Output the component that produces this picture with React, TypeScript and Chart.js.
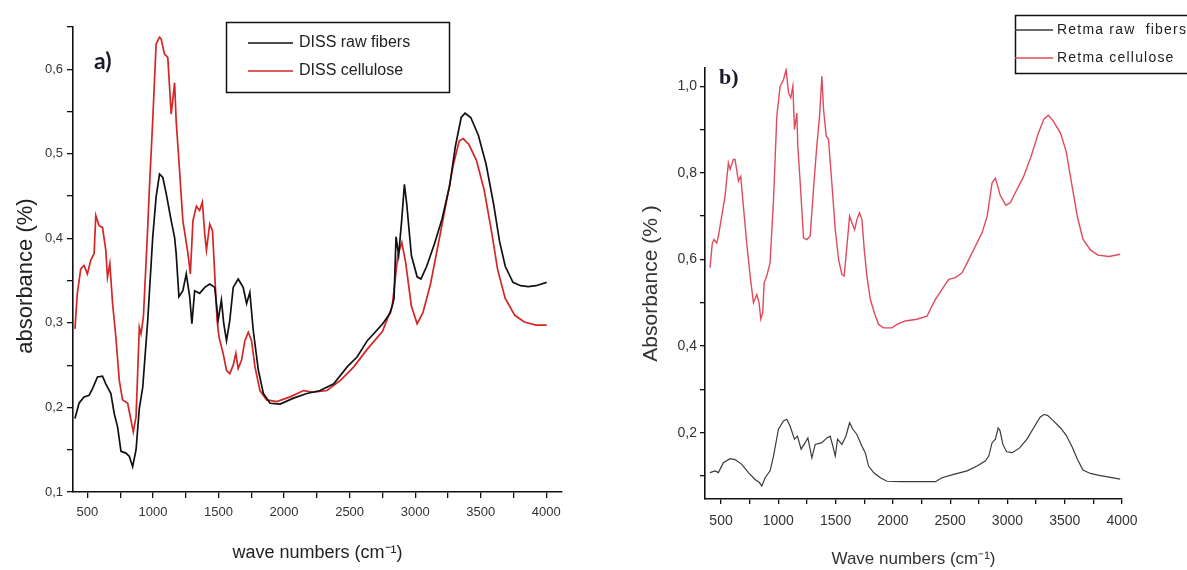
import { useEffect, useRef } from "react";
import { Chart, registerables } from "chart.js";

Chart.register(...registerables);

// ---------- Panel a) DISS ----------
const dissRawX = [405, 436, 474, 513, 538, 577, 615, 640, 679, 704, 730, 756, 794, 820, 845, 871, 896, 922, 960, 998, 1024, 1050, 1075, 1101, 1139, 1165, 1177, 1198, 1228, 1254, 1280, 1297, 1318, 1356, 1395, 1433, 1471, 1497, 1522, 1540, 1561, 1586, 1612, 1650, 1688, 1714, 1739, 1765, 1804, 1842, 1893, 1970, 2072, 2174, 2276, 2379, 2481, 2558, 2635, 2751, 2810, 2839, 2854, 2874, 2898, 2918, 2936, 2971, 3015, 3044, 3088, 3146, 3205, 3263, 3307, 3351, 3380, 3424, 3482, 3541, 3599, 3643, 3687, 3746, 3804, 3863, 3921, 4003];
const dissRawY = [0.187, 0.205, 0.2125, 0.2145, 0.222, 0.236, 0.237, 0.228, 0.2165, 0.193, 0.177, 0.148, 0.146, 0.142, 0.13, 0.15, 0.199, 0.224, 0.303, 0.401, 0.449, 0.476, 0.472, 0.453, 0.421, 0.401, 0.382, 0.331, 0.338, 0.358, 0.331, 0.299, 0.338, 0.335, 0.342, 0.346, 0.342, 0.303, 0.327, 0.299, 0.279, 0.303, 0.342, 0.352, 0.342, 0.323, 0.336, 0.291, 0.244, 0.2165, 0.205, 0.204, 0.211, 0.2165, 0.22, 0.228, 0.248, 0.26, 0.279, 0.2987, 0.3116, 0.329, 0.402, 0.38, 0.423, 0.464, 0.44, 0.38, 0.3545, 0.352, 0.367, 0.393, 0.423, 0.462, 0.509, 0.543, 0.548, 0.543, 0.522, 0.4876, 0.44, 0.397, 0.367, 0.348, 0.344, 0.343, 0.344, 0.348];

const dissCelX = [405, 423, 449, 474, 500, 525, 551, 564, 589, 615, 640, 653, 671, 692, 717, 743, 768, 807, 832, 850, 871, 896, 909, 927, 960, 973, 998, 1024, 1050, 1062, 1088, 1113, 1139, 1165, 1177, 1203, 1228, 1267, 1285, 1305, 1331, 1356, 1377, 1395, 1408, 1433, 1454, 1471, 1489, 1504, 1535, 1561, 1586, 1612, 1632, 1650, 1676, 1701, 1727, 1752, 1778, 1816, 1867, 1944, 2046, 2149, 2225, 2328, 2430, 2532, 2635, 2751, 2825, 2868, 2898, 2927, 2971, 3015, 3059, 3117, 3176, 3234, 3292, 3336, 3366, 3410, 3468, 3526, 3585, 3629, 3687, 3760, 3833, 3921, 4003];
const dissCelY = [0.293, 0.335, 0.364, 0.368, 0.358, 0.374, 0.382, 0.427, 0.415, 0.413, 0.386, 0.354, 0.37, 0.323, 0.283, 0.232, 0.209, 0.205, 0.185, 0.171, 0.189, 0.295, 0.287, 0.307, 0.413, 0.46, 0.539, 0.63, 0.638, 0.636, 0.618, 0.614, 0.547, 0.584, 0.539, 0.48, 0.421, 0.382, 0.358, 0.421, 0.438, 0.433, 0.443, 0.405, 0.386, 0.417, 0.409, 0.358, 0.303, 0.283, 0.264, 0.244, 0.24, 0.25, 0.264, 0.246, 0.256, 0.279, 0.289, 0.279, 0.248, 0.22, 0.209, 0.207, 0.2125, 0.22, 0.218, 0.22, 0.232, 0.248, 0.269, 0.29, 0.32, 0.38, 0.395, 0.372, 0.32, 0.299, 0.312, 0.346, 0.393, 0.44, 0.4876, 0.515, 0.518, 0.511, 0.492, 0.4575, 0.406, 0.363, 0.329, 0.309, 0.301, 0.2974, 0.2974];

// ---------- Panel b) Retma ----------
const retmaRawX = [404, 448, 477, 520, 579, 622, 681, 739, 797, 835, 856, 885, 928, 958, 1001, 1045, 1074, 1103, 1141, 1167, 1199, 1234, 1258, 1293, 1322, 1380, 1424, 1453, 1476, 1497, 1517, 1555, 1590, 1622, 1651, 1686, 1730, 1759, 1788, 1832, 1890, 1948, 2065, 2211, 2371, 2429, 2531, 2648, 2735, 2808, 2837, 2866, 2895, 2919, 2935, 2960, 2993, 3042, 3107, 3172, 3237, 3285, 3318, 3350, 3399, 3464, 3513, 3562, 3611, 3659, 3724, 3789, 3887, 3984];
const retmaRawY = [0.108, 0.112, 0.108, 0.131, 0.14, 0.138, 0.127, 0.108, 0.092, 0.085, 0.077, 0.096, 0.112, 0.146, 0.208, 0.227, 0.231, 0.215, 0.185, 0.192, 0.162, 0.177, 0.188, 0.142, 0.173, 0.177, 0.188, 0.192, 0.169, 0.146, 0.185, 0.173, 0.192, 0.223, 0.208, 0.196, 0.169, 0.154, 0.123, 0.108, 0.096, 0.088, 0.087, 0.087, 0.087, 0.096, 0.104, 0.112, 0.123, 0.135, 0.146, 0.177, 0.185, 0.211, 0.205, 0.173, 0.156, 0.154, 0.165, 0.186, 0.215, 0.236, 0.242, 0.24, 0.228, 0.211, 0.194, 0.169, 0.139, 0.114, 0.106, 0.102, 0.0975, 0.093];

const retmaCelX = [404, 424, 439, 462, 477, 506, 535, 564, 579, 608, 622, 652, 672, 695, 724, 754, 783, 812, 832, 847, 864, 876, 899, 928, 958, 987, 1016, 1045, 1068, 1089, 1109, 1127, 1141, 1162, 1170, 1191, 1220, 1249, 1278, 1307, 1336, 1360, 1380, 1395, 1418, 1438, 1467, 1497, 1526, 1555, 1575, 1599, 1622, 1642, 1666, 1686, 1709, 1730, 1750, 1773, 1803, 1838, 1875, 1919, 1992, 2036, 2108, 2210, 2298, 2327, 2371, 2429, 2487, 2546, 2604, 2648, 2706, 2779, 2823, 2866, 2895, 2937, 2986, 3025, 3074, 3139, 3204, 3269, 3318, 3357, 3399, 3464, 3513, 3562, 3611, 3659, 3724, 3789, 3887, 3984];
const retmaCelY = [0.581, 0.638, 0.646, 0.638, 0.654, 0.7, 0.746, 0.823, 0.808, 0.831, 0.831, 0.781, 0.792, 0.723, 0.638, 0.562, 0.5, 0.519, 0.5, 0.462, 0.477, 0.546, 0.562, 0.592, 0.738, 0.931, 1.0, 1.015, 1.038, 0.985, 0.973, 1.0, 0.9, 0.938, 0.862, 0.777, 0.65, 0.646, 0.654, 0.762, 0.862, 0.931, 1.023, 0.946, 0.885, 0.877, 0.777, 0.669, 0.6, 0.565, 0.562, 0.631, 0.7, 0.685, 0.669, 0.692, 0.708, 0.692, 0.623, 0.562, 0.508, 0.477, 0.45, 0.442, 0.442, 0.45, 0.458, 0.462, 0.469, 0.485, 0.508, 0.531, 0.554, 0.558, 0.569, 0.592, 0.623, 0.662, 0.7, 0.777, 0.788, 0.748, 0.725, 0.731, 0.757, 0.79, 0.836, 0.891, 0.924, 0.933, 0.92, 0.891, 0.849, 0.773, 0.698, 0.647, 0.622, 0.61, 0.607, 0.612];

// ---------- Ticks & labels ----------
const xTicks = [500, 750, 1000, 1250, 1500, 1750, 2000, 2250, 2500, 2750, 3000, 3250, 3500, 3750, 4000];
const aYTicks = [0.1, 0.15, 0.2, 0.25, 0.3, 0.35, 0.4, 0.45, 0.5, 0.55, 0.6, 0.65];
const bYTicks = [0.1, 0.2, 0.3, 0.4, 0.5, 0.6, 0.7, 0.8, 0.9, 1.0];

const seriesNamesA = ["DISS raw fibers", "DISS cellulose"];
const seriesNamesB = ["Retma raw  fibers", "Retma cellulose"];
const yTitleA = "absorbance (%)";

const toPts = (xs: number[], ys: number[]) => xs.map((x, i) => ({ x, y: ys[i] }));
const comma = (v: number) => v.toFixed(1).replace(".", ",");

type LegendOpts = {
  id: string;
  box: [number, number, number, number];
  rows: number[];
  lineX: [number, number];
  textX: number;
  font: string;
  spacing: string;
  panel: { text: string; x: number; y: number; font: string; color: string };
  yTitle?: { text: string; x: number; y: number; font: string; color: string };
};

const boxLegend = (o: LegendOpts) => ({
  id: o.id,
  afterDraw(chart: any) {
    const ctx = chart.ctx as CanvasRenderingContext2D;
    ctx.save();
    ctx.lineWidth = 1.5;
    ctx.strokeStyle = "#111";
    ctx.strokeRect(o.box[0], o.box[1], o.box[2], o.box[3]);
    chart.data.datasets.forEach((ds: any, i: number) => {
      const y = o.rows[i];
      ctx.strokeStyle = ds.borderColor;
      ctx.lineWidth = 1.4;
      ctx.beginPath();
      ctx.moveTo(o.lineX[0], y);
      ctx.lineTo(o.lineX[1], y);
      ctx.stroke();
      ctx.fillStyle = "#222";
      ctx.font = o.font;
      (ctx as any).letterSpacing = o.spacing;
      ctx.textBaseline = "middle";
      ctx.textAlign = "left";
      ctx.fillText(ds.label, o.textX, y);
    });
    (ctx as any).letterSpacing = "0px";
    ctx.font = o.panel.font;
    ctx.fillStyle = o.panel.color;
    ctx.textBaseline = "middle";
    ctx.textAlign = "left";
    ctx.fillText(o.panel.text, o.panel.x, o.panel.y);
    if (o.yTitle) {
      ctx.save();
      ctx.translate(o.yTitle.x, o.yTitle.y);
      ctx.rotate(-Math.PI / 2);
      ctx.font = o.yTitle.font;
      ctx.fillStyle = o.yTitle.color;
      ctx.textAlign = "center";
      ctx.textBaseline = "middle";
      ctx.fillText(o.yTitle.text, 0, 0);
      ctx.restore();
    }
    ctx.restore();
  },
});

const tickFont = { family: "'Liberation Sans', Arial, sans-serif", size: 13 };

function makeA(canvas: HTMLCanvasElement) {
  return new Chart(canvas, {
    type: "line",
    data: {
      datasets: [
        { label: seriesNamesA[0], data: toPts(dissRawX, dissRawY), borderColor: "#111111", borderWidth: 1.7, pointRadius: 0, tension: 0 },
        { label: seriesNamesA[1], data: toPts(dissCelX, dissCelY), borderColor: "#d42626", borderWidth: 1.7, pointRadius: 0, tension: 0 },
      ],
    },
    options: {
      responsive: false,
      animation: false,
      events: [],
      layout: { padding: { left: 0, top: 27, right: 38, bottom: 0 } },
      plugins: { legend: { display: false }, tooltip: { enabled: false } },
      scales: {
        x: {
          type: "linear",
          min: 390,
          max: 4120,
          afterBuildTicks: (s: any) => { s.ticks = xTicks.map((v) => ({ value: v })); },
          afterFit: (s: any) => { s.height = 78; },
          ticks: { autoSkip: false, maxRotation: 0, padding: 7, color: "#333", font: tickFont, callback: (v: any) => (Number(v) % 500 === 0 ? String(v) : "") },
          grid: { drawOnChartArea: false, drawTicks: true, tickLength: 6, tickColor: "#111", lineWidth: 1.3 },
          border: { display: true, color: "#111", width: 1.6 },
          title: { display: true, text: "wave numbers (cm⁻¹)", color: "#222", font: { family: "'Liberation Sans', Arial, sans-serif", size: 18 }, padding: { top: 0, bottom: 6 } },
        },
        y: {
          type: "linear",
          min: 0.1,
          max: 0.65,
          afterBuildTicks: (s: any) => { s.ticks = aYTicks.map((v) => ({ value: v })); },
          afterFit: (s: any) => { s.width = 73; },
          ticks: { autoSkip: false, padding: 4, color: "#333", font: tickFont, callback: (v: any) => (Math.round(Number(v) * 100) % 10 === 0 ? comma(Number(v)) : "") },
          grid: { drawOnChartArea: false, drawTicks: true, tickLength: 6, tickColor: "#111", lineWidth: 1.3 },
          border: { display: true, color: "#111", width: 1.6 },
          title: { display: false },
        },
      },
    },
    plugins: [
      boxLegend({
        id: "legendA",
        box: [226.5, 22.5, 223, 70],
        rows: [43, 71],
        lineX: [248, 293],
        textX: 299,
        font: "16px 'Liberation Sans', Arial, sans-serif",
        spacing: "0px",
        panel: { text: "a)", x: 94, y: 62, font: "bold 23px Lato, 'Liberation Sans', sans-serif", color: "#1a1a2a" },
        yTitle: { text: yTitleA, x: 26, y: 276, font: "22px 'Liberation Sans', Arial, sans-serif", color: "#222" },
      }),
    ],
  } as any);
}

function makeB(canvas: HTMLCanvasElement) {
  return new Chart(canvas, {
    type: "line",
    data: {
      datasets: [
        { label: seriesNamesB[0], data: toPts(retmaRawX, retmaRawY), borderColor: "#3a3a3a", borderWidth: 1.2, pointRadius: 0, tension: 0 },
        { label: seriesNamesB[1], data: toPts(retmaCelX, retmaCelY), borderColor: "#e04a5c", borderWidth: 1.4, pointRadius: 0, tension: 0 },
      ],
    },
    options: {
      responsive: false,
      animation: false,
      events: [],
      layout: { padding: { left: 30, top: 68, right: 65, bottom: 0 } },
      plugins: { legend: { display: false }, tooltip: { enabled: false } },
      scales: {
        x: {
          type: "linear",
          min: 360,
          max: 4000,
          afterBuildTicks: (s: any) => { s.ticks = xTicks.map((v) => ({ value: v })); },
          afterFit: (s: any) => { s.height = 71; },
          ticks: { autoSkip: false, maxRotation: 0, padding: 9, color: "#333", font: { family: "'Liberation Sans', Arial, sans-serif", size: 14 }, callback: (v: any) => (Number(v) % 500 === 0 ? String(v) : "") },
          grid: { drawOnChartArea: false, drawTicks: true, tickLength: 5, tickColor: "#111", lineWidth: 1.3 },
          border: { display: true, color: "#111", width: 1.6 },
          title: { display: true, text: "Wave numbers (cm⁻¹)", color: "#333", font: { family: "'Liberation Sans', Arial, sans-serif", size: 17 }, padding: { top: 0, bottom: 0 } },
        },
        y: {
          type: "linear",
          min: 0.047,
          max: 1.042,
          afterBuildTicks: (s: any) => { s.ticks = bYTicks.map((v) => ({ value: v })); },
          afterFit: (s: any) => { s.width = 75; },
          ticks: { autoSkip: false, padding: 3, color: "#333", font: { family: "'Liberation Sans', Arial, sans-serif", size: 14 }, callback: (v: any) => (Math.round(Number(v) * 10) % 2 === 0 ? comma(Number(v)) : "") },
          grid: { drawOnChartArea: false, drawTicks: true, tickLength: 5, tickColor: "#111", lineWidth: 1.3 },
          border: { display: true, color: "#111", width: 1.6 },
          title: { display: true, text: "Absorbance (% )", color: "#333", font: { family: "'Liberation Sans', Arial, sans-serif", size: 21 }, padding: { top: 9, bottom: 0 } },
        },
      },
    },
    plugins: [
      boxLegend({
        id: "legendB",
        box: [415.5, 15.5, 200, 58],
        rows: [30, 58],
        lineX: [415, 453],
        textX: 457,
        font: "14px 'Liberation Sans', Arial, sans-serif",
        spacing: "1.2px",
        panel: { text: "b)", x: 119, y: 78, font: "bold 22px 'Liberation Serif', 'Times New Roman', serif", color: "#1a1a2a" },
      }),
    ],
  } as any);
}

export default function App() {
  const refA = useRef<HTMLCanvasElement | null>(null);
  const refB = useRef<HTMLCanvasElement | null>(null);

  useEffect(() => {
    const a = refA.current ? makeA(refA.current) : null;
    const b = refB.current ? makeB(refB.current) : null;
    return () => {
      a?.destroy();
      b?.destroy();
    };
  }, []);

  return (
    <div style={{ position: "absolute", left: 0, top: 0, width: 1187, height: 570, background: "#fff", overflow: "hidden" }}>
      <canvas ref={refA} width={600} height={570} style={{ position: "absolute", left: 0, top: 0, width: 600, height: 570 }} />
      <canvas ref={refB} width={587} height={570} style={{ position: "absolute", left: 600, top: 0, width: 587, height: 570 }} />
    </div>
  );
}
